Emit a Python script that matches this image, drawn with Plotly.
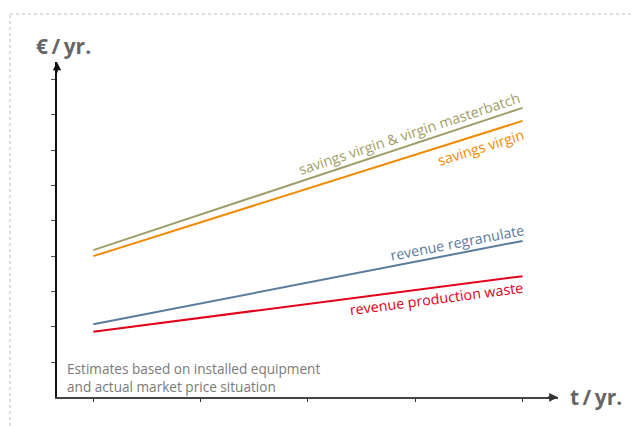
import plotly.graph_objects as go

# ---- data ----
x_pos = [0, 1, 2, 3, 4]
y_ticks = [1, 2, 3, 4, 5, 6, 7, 8, 9]
savings_vm = [4.17, 5.18, 6.19, 7.19, 8.20]
savings_v = [4.00, 4.96, 5.92, 6.87, 7.83]
rev_regran = [2.07, 2.66, 3.25, 3.84, 4.43]
rev_waste = [1.86, 2.25, 2.65, 3.04, 3.43]

series_names = ["savings virgin & virgin masterbatch", "savings virgin",
                "revenue regranulate", "revenue production waste"]
series_vals = [savings_vm, savings_v, rev_regran, rev_waste]
colors = ["#A09E68", "#F18A00", "#5B7B9B", "#E2001A"]

W, H = 632, 426
FONT = "Open Sans"

fig = go.Figure()
for name, vals, c in zip(series_names, series_vals, colors):
    fig.add_trace(go.Scatter(x=x_pos, y=vals, mode="lines", name=name,
                             line=dict(color=c, width=2), hoverinfo="skip"))

# pixel geometry of the axes
x0_px, xend_px = 57, 558
ybot_px, ytop_px = 397.3, 62
tick0_px, tickstep_px = 93.3, 107.3
ystep_px = 35.3

x_min = (x0_px - tick0_px) / tickstep_px
x_max = (xend_px - tick0_px) / tickstep_px
y_max = (ybot_px - ytop_px) / ystep_px

fig.update_layout(
    width=W, height=H,
    margin=dict(l=0, r=0, t=0, b=0),
    paper_bgcolor="white", plot_bgcolor="white",
    showlegend=False,
    xaxis=dict(domain=[x0_px / W, xend_px / W], range=[x_min, x_max],
               showgrid=False, zeroline=False, showline=True,
               linecolor="#444", linewidth=2,
               ticks="outside", ticklen=3, tickwidth=1, tickcolor="#333",
               tickvals=x_pos, showticklabels=False, fixedrange=True),
    yaxis=dict(domain=[1 - ybot_px / H, 1 - ytop_px / H], range=[0, y_max],
               showgrid=False, zeroline=False, showline=True,
               linecolor="#111", linewidth=1.6,
               ticks="outside", ticklen=4, tickwidth=1, tickcolor="#555",
               tickvals=y_ticks, showticklabels=False, fixedrange=True),
    font=dict(family=FONT),
)

# dotted frame (top and left)
fig.add_shape(type="line", xref="paper", yref="paper",
              x0=10 / W, x1=1, y0=1 - 14 / H, y1=1 - 14 / H,
              line=dict(color="#BBBBBB", width=1, dash="dot"))
fig.add_shape(type="line", xref="paper", yref="paper",
              x0=10 / W, x1=10 / W, y0=0, y1=1 - 14 / H,
              line=dict(color="#BBBBBB", width=1, dash="dot"))

# arrowheads
fig.add_annotation(x=x_min, y=y_max, xref="x", yref="y", ax=0, ay=12,
                   showarrow=True, arrowhead=2, arrowsize=1.1, arrowwidth=1.5,
                   arrowcolor="#111", text="")
fig.add_annotation(x=x_max, y=0, xref="x", yref="y", ax=-12, ay=0,
                   showarrow=True, arrowhead=2, arrowsize=1.1, arrowwidth=1.6,
                   arrowcolor="#333", text="")

def px2d(px, py):
    return (px - tick0_px) / tickstep_px, (ybot_px - py) / ystep_px

# axis titles
fig.add_annotation(x=63 / W, y=1 - 46 / H, xref="paper", yref="paper",
                   xanchor="center", yanchor="middle",
                   text="<b>€\u2009/\u2009yr.</b>", showarrow=False,
                   font=dict(family=FONT, size=21, color="#666666"))
fig.add_annotation(x=596 / W, y=1 - 397 / H, xref="paper", yref="paper",
                   xanchor="center", yanchor="middle",
                   text="<b>t\u2009/\u2009yr.</b>", showarrow=False,
                   font=dict(family=FONT, size=21, color="#666666"))

# series labels along the lines
label_specs = [
    (409, 133, -18.3),
    (480, 147, -17.4),
    (457, 242, -11.0),
    (436, 298, -7.4),
]
for name, c, (px, py, ang) in zip(series_names, colors, label_specs):
    xd, yd = px2d(px, py)
    fig.add_annotation(x=xd, y=yd, xref="x", yref="y", text=name,
                       showarrow=False, textangle=ang,
                       xanchor="center", yanchor="middle",
                       font=dict(family=FONT, size=14.3, color=c))

# note
fig.add_annotation(x=65 / W, y=1 - 377 / H, xref="paper", yref="paper",
                   text="Estimates based on installed equipment<br>and actual market price situation",
                   showarrow=False, xanchor="left", yanchor="middle", align="left",
                   font=dict(family=FONT, size=13.6, color="#7A7A7A"))

fig.write_html("out.html", config={"displayModeBar": False})
